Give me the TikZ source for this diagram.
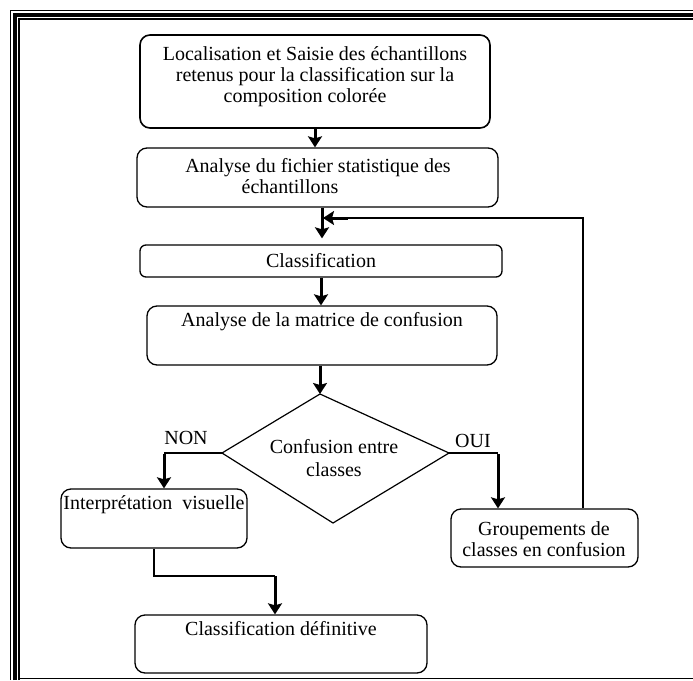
\documentclass[tikz,border=0pt]{standalone}
\usepackage{fontspec}
\setmainfont{Liberation Serif}
\usetikzlibrary{arrows.meta}
\begin{document}
\begin{tikzpicture}[x=1pt,y=-1pt,
  box/.style={draw, rounded corners=10pt, line width=1.3pt, inner sep=0pt},
  txt/.style={font=\fontsize{20}{21}\selectfont, align=center, inner sep=0pt},
  thinline/.style={line width=1.2pt},
  thickarr/.style={line width=3pt, -{Stealth[length=11pt,width=14pt,inset=2pt]}}]
\useasboundingbox (0,0) rectangle (693,680);
% frame
\draw[line width=1.2pt] (10.5,680) -- (10.5,10.5) -- (693,10.5);
\draw[line width=3.6pt] (14.7,680) -- (14.7,14.7) -- (693,14.7);
\draw[line width=1.4pt] (19,680) -- (19,19) -- (693,19);
\draw[line width=1.8pt] (19,678.5) -- (693,678.5);
% boxes
\node[box, line width=1.6pt, minimum width=350pt, minimum height=93pt] (b1) at (315,81.5) {};
\node[txt] (t1) at (315,77) {Localisation et Saisie des échantillons\\retenus pour la classification sur la\\composition colorée\hspace*{20pt}};
\node[box, minimum width=361pt, minimum height=59pt] (b2) at (317.5,177.5) {};
\node[txt] (t2) at (318,176) {Analyse du fichier statistique des\\échantillons\hspace*{56pt}};
\node[box, rounded corners=6pt, minimum width=362pt, minimum height=32pt] (b3) at (321,261) {};
\node[txt] (t3) at (321,261) {Classification};
\node[box, minimum width=350pt, minimum height=59pt] (b4) at (322,335.5) {};
\node[txt] (t4) at (322,322) {Analyse de la matrice de confusion};
\node[box, minimum width=186pt, minimum height=59pt] (b5) at (154,518.5) {};
\node[txt] (t5) at (154,505) {Interprétation\ \ visuelle};
\node[box, minimum width=187pt, minimum height=58pt] (b6) at (544.5,538) {};
\node[txt] (t6) at (544,539) {Groupements de\\classes en confusion};
\node[box, minimum width=292pt, minimum height=58pt] (b7) at (281,644) {};
\node[txt] (t7) at (281,629) {Classification définitive};
% decision
\coordinate (dT) at (320,394);
\coordinate (dR) at (449,453);
\coordinate (dB) at (333,523);
\coordinate (dL) at (222,453);
\draw[thinline] (dT) -- (dR) -- (dB) -- (dL) -- cycle;
\node[txt, font=\fontsize{20}{23}\selectfont] (dtxt) at (334,458) {Confusion entre\\classes};
\node[txt] (non) at (186,438) {NON};
\node[txt] (oui) at (473,441) {OUI};
% connectors
\draw[thickarr] (b1.south) -- (b1.south |- b2.north);
\draw[thickarr, shorten >=6pt] ([xshift=4.5pt]b2.south) -- ([xshift=4.5pt]b2.south |- b3.north);
\draw[thickarr] (b3.south) -- (b3.south |- b4.north);
\draw[thickarr] (dT |- b4.south) -- (dT);
\coordinate (nonC) at (164,453);
\draw[thinline] (dL) -- (nonC);
\draw[thickarr] ([yshift=-1pt]nonC) -- (nonC |- b5.north);
\coordinate (ouiC) at (498,453);
\draw[thinline] (dR) -- (ouiC);
\draw[thickarr] ([yshift=-1pt]ouiC) -- (ouiC |- b6.north);
\coordinate (fbR) at (583,218);
\coordinate (fbM) at (348,218);
\coordinate (fbE) at (323,218);
\draw[thinline] (b6.north -| fbR) -- (fbR) -- (fbM);
\draw[thickarr] (fbM) -- (fbE);
\coordinate (c1) at (154,576);
\coordinate (c2) at (275,576);
\draw[thinline] (b5.south) -- (c1) -- (c2);
\draw[thickarr] (c2) -- (c2 |- b7.north);
\end{tikzpicture}
\end{document}
